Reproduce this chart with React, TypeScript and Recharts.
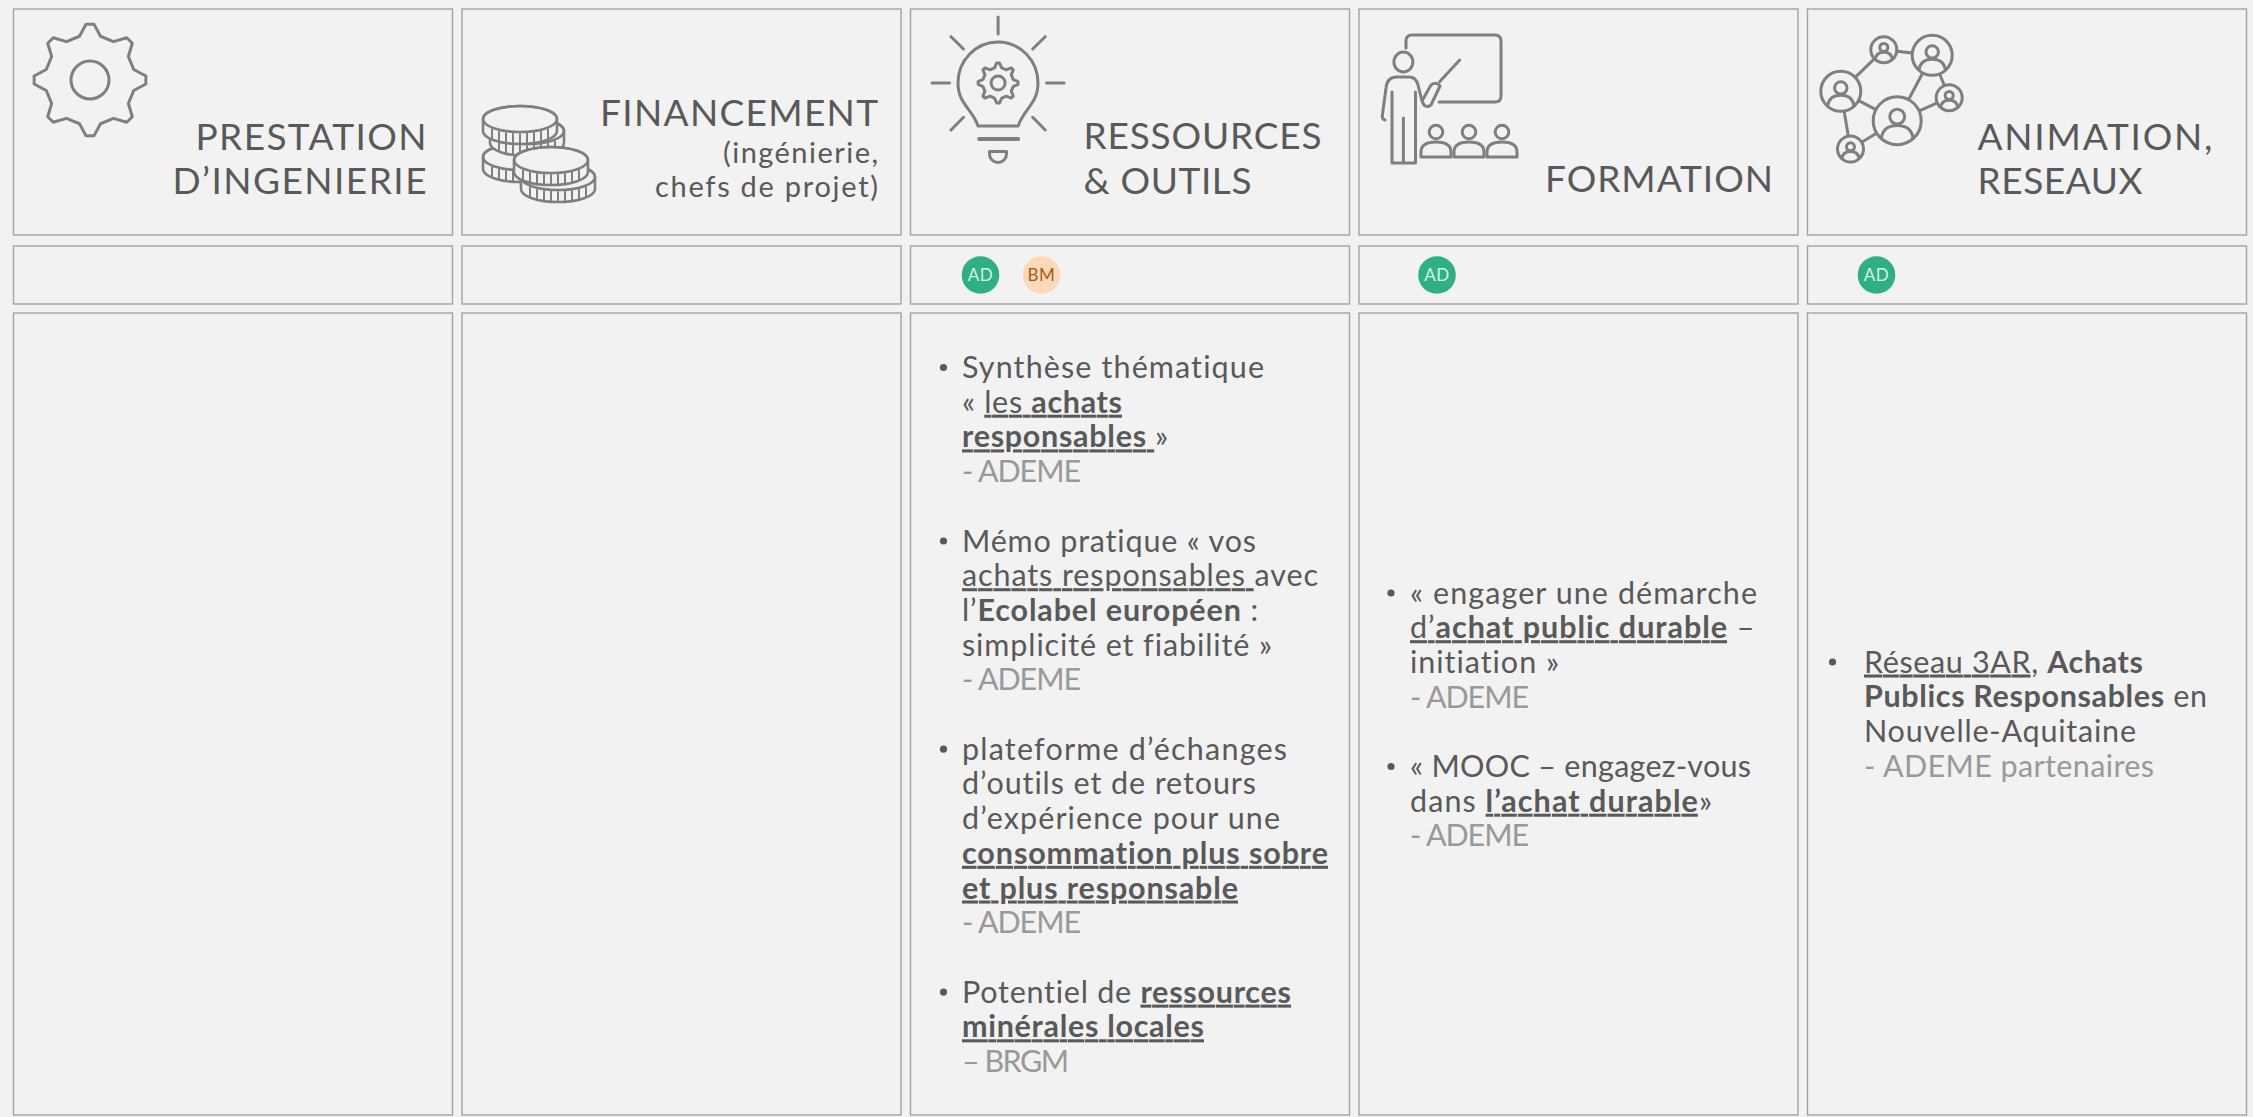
import React from 'react';
import { BarChart, Bar, XAxis, YAxis } from 'recharts';

const columns = ['Prestation', 'Financement', 'Ressources', 'Formation', 'Animation'];

// stacked from the bottom of the page upwards
const endGap = [2, 2, 2, 2, 2];
const bodyRow = [802, 802, 802, 802, 802];
const lowGap = [9, 9, 9, 9, 9];
const badgeRow = [58, 58, 58, 58, 58];
const midGap = [11, 11, 11, 11, 11];
const headerRow = [226, 226, 226, 226, 226];
const topGap = [9, 9, 9, 9, 9];

const headerTexts = [
  ['PRESTATION', 'D’INGENIERIE'],
  ['FINANCEMENT', '(ingénierie,', 'chefs de projet)'],
  ['RESSOURCES', '& OUTILS'],
  ['FORMATION'],
  ['ANIMATION,', 'RESEAUX'],
];

const badgeTexts = [[], [], ['AD', 'BM'], ['AD'], ['AD']];

// * toggles bold, _ toggles underline
const resourceBlocks = [
  { lines: ['Synthèse thématique', '« _les *achats*_', '_*responsables *_»'], source: '- ADEME' },
  { lines: ['Mémo pratique « vos', '_achats responsables _avec', 'l’*Ecolabel européen* :', 'simplicité et fiabilité »'], source: '- ADEME' },
  { lines: ['plateforme d’échanges', 'd’outils et de retours', 'd’expérience pour une', '_*consommation plus sobre*_', '_*et plus responsable*_'], source: '- ADEME' },
  { lines: ['Potentiel de _*ressources*_', '_*minérales locales*_'], source: '– BRGM' },
];
const trainingBlocks = [
  { lines: ['« engager une démarche', '_d’*achat public durable*_ –', 'initiation »'], source: '- ADEME' },
  { lines: ['« MOOC – engagez-vous', 'dans _*l’achat durable*_»'], source: '- ADEME' },
];
const networkBlocks = [
  { lines: ['_Réseau 3AR_, *Achats*', '*Publics Responsables* en', 'Nouvelle-Aquitaine'], source: '- ADEME partenaires' },
];
const bodyBlocks = [[], [], resourceBlocks, trainingBlocks, networkBlocks];

const rows = columns.map((name, i) => ({
  name,
  endGap: endGap[i],
  body: bodyRow[i],
  lowGap: lowGap[i],
  badge: badgeRow[i],
  midGap: midGap[i],
  header: headerRow[i],
  topGap: topGap[i],
}));

const FONT = 'Lato, sans-serif';
const BG = '#f2f2f2';
const BORDER = '#a3a3a3';
const INK = '#595959';
const SOFT = '#999999';
const ICON = '#7f7f7f';
const LINE_STEP = 34.7;

const headerLayout = [
  { anchor: 'end', x: 413, ys: [141, 185], sizes: [37, 37], widths: [231, 254] },
  { anchor: 'end', x: 416, ys: [117, 154, 188], sizes: [37, 29, 29], widths: [278, 155, 223] },
  { anchor: 'start', x: 173, ys: [140, 185], sizes: [37, 37], widths: [238, 168] },
  { anchor: 'end', x: 414, ys: [183], sizes: [37], widths: [228] },
  { anchor: 'start', x: 170, ys: [141, 185], sizes: [37, 37], widths: [235, 165] },
];
const badgeOffsets = [[], [], [70, 131], [78], [69]];
const bodyLayout = [
  null,
  null,
  {
    textX: 51.5,
    bulletX: 33,
    top: 65,
    widths: [302, 160, 206, 119, 294, 356, 296, 310, 119, 325, 294, 318, 366, 276, 119, 329, 242, 107],
  },
  { textX: 51, bulletX: 32, top: 290.5, widths: [347, 344.5, 149, 119, 341, 302, 119] },
  { textX: 56.5, bulletX: 25, top: 359.5, widths: [279, 343, 272, 290] },
];

const gearPath = (cx: number, cy: number, tip: number, root: number, teeth: number) => {
  let d = '';
  const step = (Math.PI * 2) / teeth;
  for (let i = 0; i < teeth; i++) {
    const a = -Math.PI / 2 + i * step;
    const pts = [
      [a - step * 0.3, root],
      [a - step * 0.09, tip],
      [a + step * 0.09, tip],
      [a + step * 0.3, root],
    ];
    pts.forEach(([ang, r], k) => {
      d += `${i === 0 && k === 0 ? 'M' : 'L'}${cx + r * Math.cos(ang)} ${cy + r * Math.sin(ang)}`;
    });
  }
  return d + 'Z';
};

const iconProps = { fill: 'none', stroke: ICON, strokeWidth: 3, strokeLinecap: 'round' as const, strokeLinejoin: 'round' as const };

const GearIcon = () => (
  <g {...iconProps}>
    <path d={gearPath(76.5, 71, 56, 45, 8)} />
    <circle cx={76.5} cy={71} r={19} />
  </g>
);

const Coin = ({ cx, cy }: { cx: number; cy: number }) => {
  const rx = 37;
  const ry = 13;
  const h = 12;
  const hatch = [-28, -21, -14, -7, 0, 7, 14, 21, 28];
  return (
    <g>
      <path d={`M${cx - rx} ${cy} A${rx} ${ry} 0 0 1 ${cx + rx} ${cy} V${cy + h} A${rx} ${ry} 0 0 1 ${cx - rx} ${cy + h} Z`} fill={BG} />
      <ellipse cx={cx} cy={cy} rx={rx} ry={ry} />
      {hatch.map((dx) => {
        const yb = cy + ry * Math.sqrt(1 - (dx * dx) / (rx * rx));
        return <line key={dx} x1={cx + dx} x2={cx + dx} y1={yb + 2} y2={yb + h - 1} strokeWidth={2} />;
      })}
    </g>
  );
};

const CoinsIcon = () => (
  <g {...iconProps} strokeWidth={2.6}>
    <Coin cx={58} cy={148} />
    <Coin cx={65} cy={122} />
    <Coin cx={58} cy={110} />
    <Coin cx={96} cy={168} />
    <Coin cx={89} cy={151} />
  </g>
);

const BulbIcon = () => (
  <g {...iconProps}>
    <path d="M87.6 8V25M21.6 74H39M136 74H153.6M40.5 27.7L53 40M134.7 27.7L122.2 40M40.5 121L53 108.3M134.7 121L122.2 108.3" />
    <path d="M67.5 117C62 100 47.5 95 47.5 74A40 41 0 0 1 127.5 74C127.5 95 113 100 107.7 117Z" />
    <path d="M68.6 130H107.7" strokeWidth={4} />
    <path d="M79 142.5H96V145A8.5 8.5 0 0 1 79 145Z" />
    <path d={gearPath(87.6, 74, 20, 15.5, 8)} />
    <circle cx={87.6} cy={74} r={7} />
  </g>
);

const TrainingIcon = () => (
  <g {...iconProps}>
    <path d="M47 39V32Q47 26 53 26H136Q142 26 142 32V87Q142 93 136 93H80" />
    <ellipse cx={44.4} cy={53} rx={9.5} ry={10} />
    <path d="M26 111Q22.5 110 23.5 105L27 79Q28 68 38 68H50Q57 68 59 76L63 92L72 76Q77 72 81 77L72 96Q68 99 65 96L63 92" />
    <path d="M80.6 72.7L100.7 51" />
    <path d="M33 83V154H56.5V83M44.4 109V154" />
    {[77, 110, 143].map((cx) => (
      <g key={cx}>
        <circle cx={cx} cy={123} r={6.8} />
        <path d={`M${cx - 15} 148V143Q${cx - 15} 133 ${cx} 133Q${cx + 15} 133 ${cx + 15} 143V148Z`} />
      </g>
    ))}
  </g>
);

const nodes = [
  { x: 89.7, y: 111.7, r: 24 },
  { x: 33.3, y: 82.3, r: 20 },
  { x: 76.3, y: 40.7, r: 13 },
  { x: 124.7, y: 46.3, r: 20 },
  { x: 141.7, y: 88.7, r: 13 },
  { x: 43, y: 140, r: 13 },
];
const links = [[1, 2], [2, 3], [3, 0], [3, 4], [4, 0], [0, 1], [1, 5], [5, 0]];

const NetworkIcon = () => (
  <g {...iconProps}>
    {links.map(([a, b]) => (
      <line key={`${a}-${b}`} x1={nodes[a].x} y1={nodes[a].y} x2={nodes[b].x} y2={nodes[b].y} />
    ))}
    {nodes.map((n) => (
      <g key={n.x}>
        <circle cx={n.x} cy={n.y} r={n.r} fill={BG} />
        <circle cx={n.x} cy={n.y - n.r * 0.17} r={n.r * 0.31} />
        <path d={`M${n.x - n.r * 0.66} ${n.y + n.r * 0.73}C${n.x - n.r * 0.6} ${n.y + n.r * 0.3} ${n.x - n.r * 0.3} ${n.y + n.r * 0.2} ${n.x} ${n.y + n.r * 0.2}C${n.x + n.r * 0.3} ${n.y + n.r * 0.2} ${n.x + n.r * 0.6} ${n.y + n.r * 0.3} ${n.x + n.r * 0.66} ${n.y + n.r * 0.73}`} />
      </g>
    ))}
  </g>
);

const icons = [GearIcon, CoinsIcon, BulbIcon, TrainingIcon, NetworkIcon];

const parseRuns = (line: string) => {
  const runs: { text: string; bold: boolean; under: boolean }[] = [];
  let bold = false;
  let under = false;
  let text = '';
  const flush = () => {
    if (text) runs.push({ text, bold, under });
    text = '';
  };
  for (const ch of line) {
    if (ch === '*') {
      flush();
      bold = !bold;
    } else if (ch === '_') {
      flush();
      under = !under;
    } else {
      text += ch;
    }
  }
  flush();
  return runs;
};

const BODY_TEXT = {
  fontFamily: FONT,
  fontSize: 30.5,
  lengthAdjust: 'spacing',
  style: { whiteSpace: 'pre' as const, fontVariantLigatures: 'none' as const },
};
const UNDERLINE = { textDecoration: 'underline', textDecorationSkipInk: 'none' as const };

const cellRect = (p: any) => (
  <rect x={p.x} y={p.y} width={p.width} height={p.height} fill={BG} stroke={BORDER} strokeWidth={1.4} />
);

const HeaderCell = (p: any) => {
  const i = p.index;
  const layout = headerLayout[i];
  const Icon = icons[i];
  return (
    <g>
      {cellRect(p)}
      <g transform={`translate(${p.x},${p.y})`}>
        <Icon />
        {headerTexts[i].map((t, k) => (
          <text key={t} x={layout.x} y={layout.ys[k]} textAnchor={layout.anchor as any} fontFamily={FONT} fontSize={layout.sizes[k]} textLength={layout.widths[k]} lengthAdjust="spacing" fill={INK} style={{ fontVariantLigatures: 'none' }}>
            {t}
          </text>
        ))}
      </g>
    </g>
  );
};

const BadgeCell = (p: any) => {
  const i = p.index;
  const cy = p.y + p.height / 2;
  return (
    <g>
      {cellRect(p)}
      {badgeTexts[i].map((t, k) => {
        const cx = p.x + badgeOffsets[i][k];
        const isAd = t === 'AD';
        return (
          <g key={t}>
            <circle cx={cx} cy={cy} r={18.8} fill={isAd ? '#2fb084' : '#fcd9b8'} />
            <text x={cx} y={cy + 6} textAnchor="middle" fontFamily={FONT} fontSize={17} letterSpacing={0.6} fill={isAd ? '#d8f0e6' : '#a8590f'}>
              {t}
            </text>
          </g>
        );
      })}
    </g>
  );
};

const BodyCell = (p: any) => {
  const i = p.index;
  const layout = bodyLayout[i];
  if (!layout) return cellRect(p);
  let k = 0;
  let w = 0;
  const items: React.ReactNode[] = [];
  bodyBlocks[i].forEach((block, b) => {
    block.lines.forEach((line, l) => {
      const y = p.y + layout.top + k * LINE_STEP;
      if (l === 0) {
        items.push(<circle key={`dot${b}`} cx={p.x + layout.bulletX} cy={y - 10.5} r={3.6} fill={INK} />);
      }
      items.push(
        <text key={`${b}-${l}`} x={p.x + layout.textX} y={y} fill={INK} textLength={layout.widths[w]} {...BODY_TEXT}>
          {parseRuns(line).map((r, n) => (
            <tspan key={n} fontWeight={r.bold ? 700 : 400} style={r.under ? UNDERLINE : undefined}>
              {r.text}
            </tspan>
          ))}
        </text>
      );
      k += 1;
      w += 1;
    });
    items.push(
      <text key={`${b}-src`} x={p.x + layout.textX} y={p.y + layout.top + k * LINE_STEP} fill={SOFT} textLength={layout.widths[w]} {...BODY_TEXT}>
        {block.source}
      </text>
    );
    w += 1;
    k += 2;
  });
  return (
    <g>
      {cellRect(p)}
      {items}
    </g>
  );
};

export default function App() {
  return (
    <div style={{ position: 'absolute', left: 0, top: 0, width: 2253, height: 1117, background: BG, overflow: 'hidden' }}>
      <BarChart width={2253} height={1117} data={rows} margin={{ top: 0, right: 2, bottom: 0, left: 8.5 }} barSize={439}>
        <XAxis dataKey="name" hide />
        <YAxis hide domain={[0, 1117]} />
        <Bar dataKey="endGap" stackId="grid" fill="none" isAnimationActive={false} />
        <Bar dataKey="body" stackId="grid" shape={BodyCell} isAnimationActive={false} />
        <Bar dataKey="lowGap" stackId="grid" fill="none" isAnimationActive={false} />
        <Bar dataKey="badge" stackId="grid" shape={BadgeCell} isAnimationActive={false} />
        <Bar dataKey="midGap" stackId="grid" fill="none" isAnimationActive={false} />
        <Bar dataKey="header" stackId="grid" shape={HeaderCell} isAnimationActive={false} />
        <Bar dataKey="topGap" stackId="grid" fill="none" isAnimationActive={false} />
      </BarChart>
    </div>
  );
}
